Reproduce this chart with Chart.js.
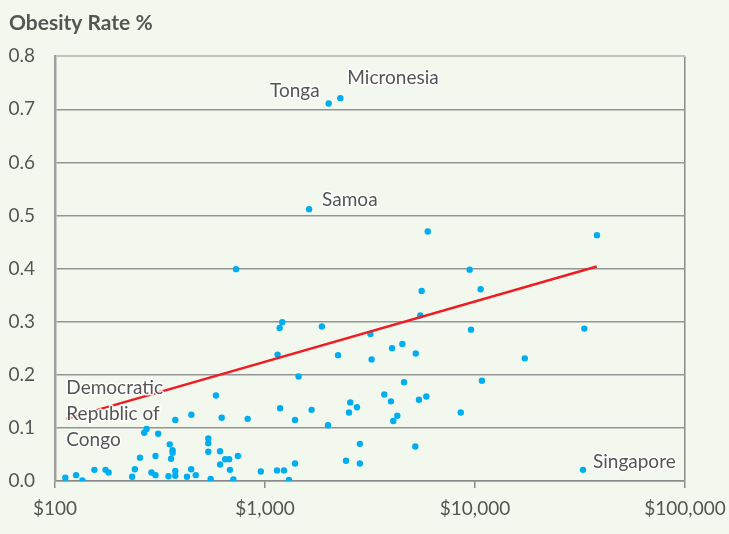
<!DOCTYPE html>
<html>
<head>
<meta charset="utf-8">
<script src="https://cdn.jsdelivr.net/npm/chart.js@4.4.1/dist/chart.umd.min.js"></script>
<style>
html, body { margin: 0; padding: 0; background: #f3f8ee; }
#wrap { width: 729px; height: 534px; }
</style>
</head>
<body>
<div id="wrap"><canvas id="chart" width="729" height="534"></canvas></div>
<script>
// GDP per capita ($, log scale) and obesity rate, one entry per country
var gdpPerCapita = [
    112, 126, 135, 154, 174, 180, 233, 240, 254, 266,
    273, 288, 301, 301, 310, 347, 352, 363, 363, 357,
    374, 374, 374, 425, 445, 446, 468, 537, 537, 537,
    551, 584, 611, 611, 622, 646, 675, 681, 707, 743,
    827, 955, 1141, 1231, 1300, 1390, 1390, 1445, 1180, 1667,
    1995, 2512, 2547, 2741, 3700, 3981, 4594, 5410, 5863, 4083,
    4266, 8553, 10790, 2830, 2431, 2830, 5197, 32680, 728, 1208,
    1174, 1148, 1622, 5957, 9434, 5572, 10640, 5491, 1866, 9572,
    3176, 4027, 4510, 2228, 3220, 5222, 17260, 38100, 33150, 2010,
    2285
];
var obesityRate = [
    0.006, 0.011, 0.001, 0.021, 0.021, 0.016, 0.008, 0.022, 0.044, 0.091,
    0.098, 0.016, 0.011, 0.047, 0.089, 0.009, 0.069, 0.058, 0.053, 0.042,
    0.019, 0.010, 0.115, 0.008, 0.022, 0.125, 0.011, 0.080, 0.071, 0.055,
    0.004, 0.161, 0.056, 0.031, 0.119, 0.041, 0.041, 0.021, 0.003, 0.047,
    0.117, 0.018, 0.020, 0.020, 0.002, 0.033, 0.115, 0.197, 0.137, 0.134,
    0.105, 0.129, 0.148, 0.139, 0.163, 0.150, 0.186, 0.153, 0.159, 0.113,
    0.123, 0.129, 0.189, 0.070, 0.038, 0.033, 0.065, 0.021, 0.399, 0.299,
    0.288, 0.238, 0.512, 0.470, 0.398, 0.358, 0.361, 0.312, 0.291, 0.285,
    0.277, 0.250, 0.258, 0.237, 0.229, 0.240, 0.231, 0.463, 0.287, 0.711,
    0.721
];

// trend line end points
var trendX = [113, 38000];
var trendY = [0.117, 0.404];

// axis ticks
var xTicks = [100, 1000, 10000, 100000];
var yTicks = [0, 0.1, 0.2, 0.3, 0.4, 0.5, 0.6, 0.7, 0.8];

// named countries and the point each one belongs to
var calloutNames = ['Tonga', 'Micronesia', 'Samoa', 'Singapore', 'Democratic\nRepublic of\nCongo'];
var calloutPoint = [89, 90, 72, 67, 0];

var points = gdpPerCapita.map(function (g, i) {
    return { x: g, y: obesityRate[i] };
});
var trend = trendX.map(function (g, i) {
    return { x: g, y: trendY[i] };
});

var textFont = 'Lato, "Open Sans", sans-serif';

// draws the country names next to their points
var calloutPlugin = {
    id: 'callouts',
    afterDatasetsDraw: function (chart) {
        var ctx = chart.ctx;
        var xs = chart.scales.x, ys = chart.scales.y;
        // offsets from the point: dx, dy, alignment
        var place = [
            [-9, -13, 'right'],
            [7, -20, 'left'],
            [13, -9, 'left'],
            [10, -8, 'left'],
            [1, -90, 'left']
        ];
        ctx.save();
        ctx.font = '19px ' + textFont;
        ctx.textBaseline = 'middle';
        calloutNames.forEach(function (name, i) {
            var k = calloutPoint[i];
            var px = xs.getPixelForValue(gdpPerCapita[k]) + place[i][0];
            var py = ys.getPixelForValue(obesityRate[k]) + place[i][1];
            ctx.textAlign = place[i][2];
            name.split('\n').forEach(function (line, j) {
                var ly = py + j * 26;
                ctx.lineWidth = 3;
                ctx.strokeStyle = 'rgba(255,255,255,0.9)';
                ctx.lineJoin = 'round';
                ctx.strokeText(line, px, ly);
                ctx.fillStyle = '#555555';
                ctx.fillText(line, px, ly);
            });
        });
        ctx.restore();
    }
};

new Chart(document.getElementById('chart'), {
    type: 'scatter',
    data: {
        datasets: [
            {
                label: 'Trend',
                data: trend,
                showLine: true,
                borderColor: '#ee1d23',
                borderWidth: 2.5,
                pointRadius: 0,
                order: 1
            },
            {
                label: 'Countries',
                data: points,
                backgroundColor: '#00aeef',
                borderWidth: 0,
                pointRadius: 3.2,
                order: 2
            }
        ]
    },
    options: {
        responsive: false,
        animation: false,
        layout: { padding: { left: 9, right: 0, top: 0, bottom: 0 } },
        plugins: {
            legend: { display: false },
            tooltip: { enabled: false },
            title: {
                display: true,
                text: 'Obesity Rate %',
                align: 'start',
                color: '#555555',
                font: { family: textFont, size: 21, weight: '700' },
                padding: { top: 11, bottom: 20 }
            }
        },
        scales: {
            x: {
                type: 'logarithmic',
                min: 100,
                max: 100000,
                afterBuildTicks: function (scale) {
                    scale.ticks = xTicks.map(function (v) { return { value: v }; });
                },
                afterFit: function (scale) {
                    scale.height = 53;
                    scale.paddingRight = 44;
                },
                ticks: {
                    color: '#555555',
                    font: { family: textFont, size: 19 },
                    padding: 9,
                    maxRotation: 0,
                    callback: function (v) { return '$' + Number(v).toLocaleString('en-US'); }
                },
                grid: {
                    drawOnChartArea: true,
                    color: function (c) { return c.tick && c.tick.value === 100000 ? '#8a8a8a' : 'rgba(0,0,0,0)'; },
                    tickColor: '#8a8a8a',
                    tickLength: 7,
                    lineWidth: 1.5
                },
                border: { display: true, color: '#8a8a8a', width: 1.5 }
            },
            y: {
                min: 0,
                max: 0.8,
                afterBuildTicks: function (scale) {
                    scale.ticks = yTicks.map(function (v) { return { value: v }; });
                },
                afterFit: function (scale) { scale.width = 46; },
                ticks: {
                    color: '#555555',
                    font: { family: textFont, size: 19 },
                    padding: 20,
                    callback: function (v) { return Number(v).toFixed(1); }
                },
                grid: {
                    drawTicks: false,
                    color: function (c) { return c.tick && c.tick.value === 0.8 ? '#c2c4bc' : '#949494'; },
                    lineWidth: function (c) { return c.tick && c.tick.value === 0.8 ? 2 : 1.5; }
                },
                border: { display: true, color: '#a0a0a0', width: 2.5 }
            }
        }
    },
    plugins: [calloutPlugin]
});
</script>
</body>
</html>
